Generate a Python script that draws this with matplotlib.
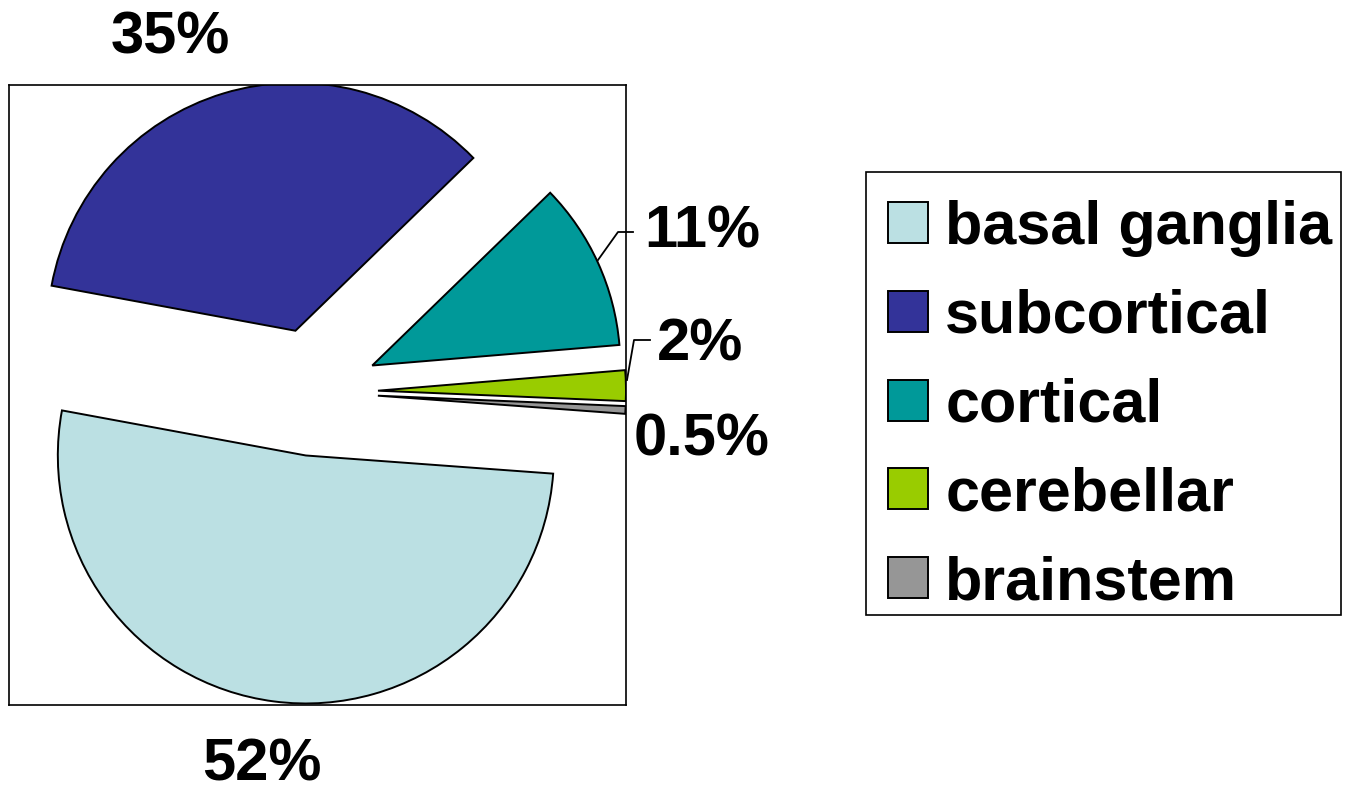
import matplotlib
matplotlib.use("Agg")
import matplotlib.pyplot as plt
from matplotlib.patches import Rectangle

categories = ["basal ganglia", "subcortical", "cortical", "cerebellar", "brainstem"]
values = [52, 35, 11, 2, 0.5]
labels = ["52%", "35%", "11%", "2%", "0.5%"]
colors = ["#BBE0E3", "#333399", "#009999", "#99CC00", "#969696"]

plt.rcParams['font.family'] = ['Liberation Sans', 'DejaVu Sans']

W, H = 1351, 794
fig = plt.figure(figsize=(W / 100, H / 100), dpi=100)
# axes box in pixels: left 9, right 626, top 85, bottom 705
ax = fig.add_axes([9 / W, (H - 705) / H, 617 / W, 620 / H])

R = 248
wedges, _ = ax.pie(values, colors=colors, radius=R, explode=[64] * 5,
                   startangle=-4.2, counterclock=False, frame=True,
                   wedgeprops=dict(edgecolor="black", linewidth=1.4))
for w in wedges:
    w.set_clip_on(True)
ax.set_xlim(-305, 312)
ax.set_ylim(-313, 307)
ax.set_aspect("equal")
ax.set_xticks([])
ax.set_yticks([])
for s in ax.spines.values():
    s.set_linewidth(1.2)
    s.set_color("black")

fs = 43
tk = dict(fontsize=fs, fontweight="bold", ha="center", va="center", clip_on=False)
ax.text(-52, -373, labels[0], **tk)
ax.text(-144, 354, labels[1], **tk)
ax.text(388, 160, labels[2], **tk)
ax.text(386, 47, labels[3], **tk)
ax.text(388, -48, labels[4], **tk)

# leader lines
ax.plot([319, 304, 284], [160, 160, 132], color="black", lw=1.3, clip_on=False)
ax.plot([336, 320, 313], [52, 52, 12], color="black", lw=1.3, clip_on=False)

lfs = 44
leg = fig.legend(wedges, categories, loc="upper left",
                 bbox_to_anchor=(888 / W, 1 - 200 / H),
                 prop=dict(size=lfs, weight="bold"), frameon=False,
                 handlelength=0.656, handleheight=0.656, handletextpad=0.28,
                 borderpad=0, borderaxespad=0, labelspacing=0.52)
fig.patches.append(Rectangle((866 / W, 1 - 615 / H), 475 / W, 443 / H,
                             transform=fig.transFigure, fill=False,
                             edgecolor="black", linewidth=1.2))

fig.savefig("out.png", dpi=100)
